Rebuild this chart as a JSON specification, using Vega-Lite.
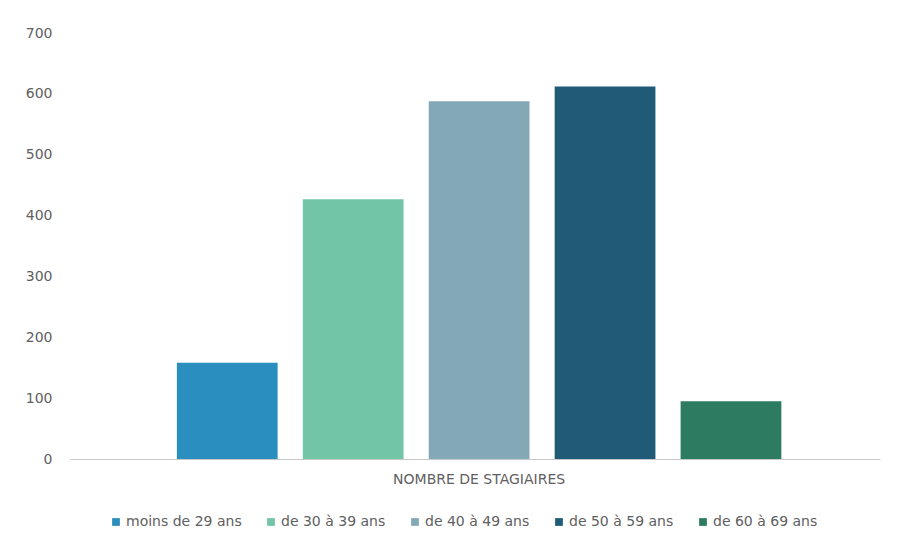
{
  "$schema": "https://vega.github.io/schema/vega-lite/v6.json",
  "width": 810,
  "height": 426,
  "autosize": {"type": "none"},
  "padding": {"left": 70, "top": 33, "right": 17, "bottom": 78},
  "background": "white",
  "config": {
    "view": {"stroke": null},
    "font": "DejaVu Sans",
    "axis": {"labelFont": "DejaVu Sans", "labelColor": "#606060", "labelFontSize": 14}
  },
  "data": {
    "values": [
      {"categorie": "NOMBRE DE STAGIAIRES", "age": "moins de 29 ans", "valeur": 158},
      {"categorie": "NOMBRE DE STAGIAIRES", "age": "de 30 à 39 ans", "valeur": 427},
      {"categorie": "NOMBRE DE STAGIAIRES", "age": "de 40 à 49 ans", "valeur": 588},
      {"categorie": "NOMBRE DE STAGIAIRES", "age": "de 50 à 59 ans", "valeur": 612},
      {"categorie": "NOMBRE DE STAGIAIRES", "age": "de 60 à 69 ans", "valeur": 95}
    ]
  },
  "mark": {"type": "bar"},
  "encoding": {
    "x": {
      "field": "categorie",
      "type": "nominal",
      "title": null,
      "scale": {"paddingInner": 0, "paddingOuter": 0.17, "align": 0.52},
      "axis": {"labelAngle": 0, "domainColor": "#c8c8c8", "ticks": false, "labelPadding": 13, "labelFontSize": 14}
    },
    "xOffset": {
      "field": "age",
      "type": "nominal",
      "sort": ["moins de 29 ans", "de 30 à 39 ans", "de 40 à 49 ans", "de 50 à 59 ans", "de 60 à 69 ans"],
      "scale": {"paddingInner": 0.2, "paddingOuter": 0}
    },
    "y": {
      "field": "valeur",
      "type": "quantitative",
      "title": null,
      "scale": {"domain": [0, 700]},
      "axis": {"values": [0, 100, 200, 300, 400, 500, 600, 700], "domain": false, "ticks": false, "grid": false, "labelPadding": 18}
    },
    "color": {
      "field": "age",
      "type": "nominal",
      "sort": ["moins de 29 ans", "de 30 à 39 ans", "de 40 à 49 ans", "de 50 à 59 ans", "de 60 à 69 ans"],
      "scale": {
        "domain": ["moins de 29 ans", "de 30 à 39 ans", "de 40 à 49 ans", "de 50 à 59 ans", "de 60 à 69 ans"],
        "range": ["#2A8EBF", "#72C5A6", "#84A9B6", "#1F5B76", "#2D7B60"]
      },
      "legend": {
        "title": null,
        "orient": "none",
        "direction": "horizontal",
        "legendX": 39,
        "legendY": 482,
        "symbolType": "square",
        "symbolSize": 60,
        "labelFontSize": 14,
        "labelColor": "#606060",
        "labelFont": "DejaVu Sans",
        "labelOffset": 3,
        "columnPadding": 22
      }
    }
  }
}
